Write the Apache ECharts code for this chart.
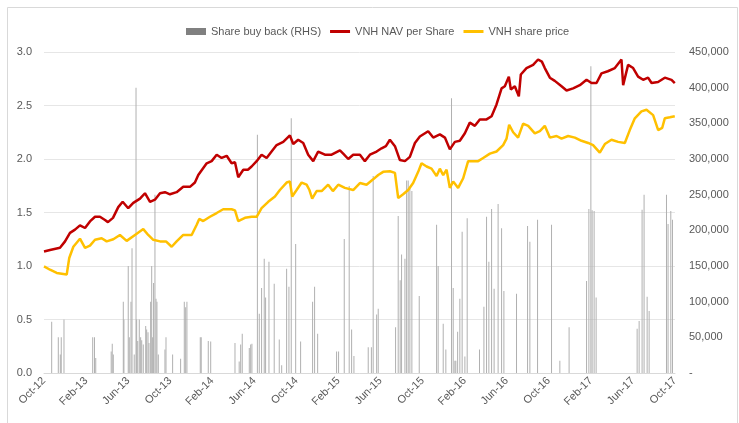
<!DOCTYPE html>
<html>
<head>
<meta charset="utf-8">
<script src="https://cdn.jsdelivr.net/npm/echarts@6/dist/echarts.min.js"></script>
<style>
html,body{margin:0;padding:0;background:#fff;}
#chart{width:739px;height:423px;}
</style>
</head>
<body>
<div id="chart"></div>
<script>
// x values are months elapsed since Oct-2012
const tickLabels = ['Oct-12','Feb-13','Jun-13','Oct-13','Feb-14','Jun-14','Oct-14','Feb-15','Jun-15','Oct-15','Feb-16','Jun-16','Oct-16','Feb-17','Jun-17','Oct-17'];

const seriesNames = ['Share buy back (RHS)', 'VNH NAV per Share', 'VNH share price'];

const navPerShare = [
[0,1.136],[0.57,1.15],[1.52,1.17],[2.0,1.23],[2.47,1.31],[2.95,1.34],[3.42,1.38],[3.9,1.355],[4.37,1.417],[4.85,1.46],
[5.32,1.46],[5.8,1.43],[6.08,1.41],[6.56,1.45],[7.06,1.55],[7.48,1.6],[8.01,1.54],[8.49,1.59],[9.13,1.63],[9.6,1.68],
[10.08,1.6],[10.55,1.62],[11.03,1.68],[11.5,1.69],[11.98,1.67],[12.61,1.69],[13.24,1.74],[13.88,1.74],[14.35,1.78],[14.67,1.85],
[15.47,1.96],[15.94,1.98],[16.42,2.04],[16.89,2.01],[17.37,2.03],[17.84,1.96],[18.16,1.97],[18.47,1.83],[18.95,1.9],[19.39,1.9],
[19.74,1.93],[20.22,1.98],[20.69,2.04],[21.17,2.01],[21.64,2.07],[22.12,2.13],[22.75,2.16],[23.38,2.22],[23.7,2.14],[24.17,2.18],
[24.65,2.15],[25.12,2.04],[25.6,1.98],[26.07,2.07],[26.71,2.04],[27.35,2.04],[28.14,2.08],[28.45,2.05],[28.93,2.0],[29.4,2.04],
[30.04,2.04],[30.51,1.98],[30.99,2.04],[31.63,2.07],[32.1,2.1],[32.51,2.12],[32.89,2.18],[33.37,2.12],[33.84,1.99],[34.32,1.98],
[34.79,2.02],[35.27,2.15],[35.74,2.21],[36.53,2.26],[37.01,2.2],[37.64,2.23],[38.12,2.2],[38.59,2.09],[39.07,2.16],[39.54,2.17],
[40.02,2.24],[40.49,2.34],[40.97,2.31],[41.44,2.37],[42.08,2.37],[42.56,2.4],[43.03,2.51],[43.51,2.66],[43.82,2.68],[44.2,2.77],
[44.39,2.65],[44.77,2.68],[45.15,2.585],[45.34,2.79],[45.88,2.85],[46.51,2.88],[46.98,2.93],[47.34,2.91],[47.62,2.85],[48.1,2.76],
[48.57,2.73],[49.21,2.68],[49.69,2.64],[50.31,2.66],[50.95,2.69],[51.59,2.74],[52.06,2.71],[52.54,2.71],[53.01,2.8],[53.61,2.82],
[54.28,2.85],[54.91,2.93],[55.07,2.69],[55.54,2.88],[56.02,2.85],[56.49,2.77],[56.97,2.74],[57.44,2.76],[57.77,2.71],[58.39,2.72],
[59.03,2.76],[59.67,2.74],[59.98,2.71]
];

const sharePrice = [
[0,0.996],[0.57,0.965],[1.21,0.935],[2.16,0.92],[2.4,1.075],[2.79,1.18],[3.42,1.255],[3.9,1.17],[4.37,1.19],[4.85,1.245],
[5.48,1.26],[5.96,1.23],[6.59,1.25],[7.22,1.29],[7.86,1.235],[8.65,1.29],[9.44,1.345],[9.91,1.29],[10.39,1.245],[11.03,1.23],
[11.6,1.23],[12.14,1.18],[12.61,1.23],[13.24,1.29],[14.04,1.29],[14.52,1.386],[14.76,1.44],[15.14,1.42],[15.78,1.46],[16.42,1.495],
[17.04,1.53],[17.84,1.53],[18.16,1.52],[18.47,1.42],[19.11,1.45],[19.74,1.46],[20.22,1.46],[20.69,1.54],[21.32,1.6],[21.96,1.65],
[22.43,1.71],[23.07,1.78],[23.38,1.79],[23.6,1.65],[24.02,1.71],[24.5,1.78],[24.97,1.76],[25.24,1.71],[25.5,1.63],[25.92,1.7],
[26.4,1.7],[27.02,1.76],[27.47,1.7],[27.98,1.76],[28.61,1.73],[29.4,1.71],[30.04,1.775],[30.67,1.76],[31.3,1.81],[31.78,1.85],
[32.25,1.88],[32.89,1.885],[33.37,1.87],[33.68,1.635],[34.15,1.67],[34.63,1.71],[35.1,1.775],[35.58,1.88],[35.9,1.96],[36.38,1.93],
[36.85,1.91],[37.33,1.84],[37.64,1.91],[37.96,1.85],[38.28,1.9],[38.59,1.73],[38.91,1.79],[39.38,1.73],[39.86,1.82],[40.33,1.98],
[40.81,1.98],[41.28,1.98],[41.76,2.01],[42.4,2.05],[43.03,2.07],[43.66,2.13],[43.98,2.19],[44.23,2.32],[44.61,2.25],[45.08,2.2],
[45.56,2.33],[46.04,2.31],[46.67,2.24],[47.15,2.26],[47.62,2.31],[48.1,2.2],[48.74,2.215],[49.21,2.19],[49.84,2.215],[50.48,2.2],
[51.11,2.17],[51.74,2.15],[52.21,2.13],[52.85,2.06],[53.33,2.14],[53.96,2.18],[54.59,2.16],[55.23,2.15],[55.7,2.27],[56.18,2.38],
[56.81,2.445],[57.29,2.46],[57.92,2.41],[58.4,2.27],[58.78,2.29],[59.03,2.38],[59.51,2.39],[59.98,2.4]
];

const shareBuyBack = [
[0.73,72000],[1.36,50000],[1.55,26000],[1.64,50000],[1.9,75000],[4.63,50000],[4.8,50000],[4.92,21000],[6.39,30000],[6.49,41000],
[6.59,26000],[7.54,100000],[7.6,75000],[8.01,150000],[8.11,50000],[8.27,100000],[8.37,175000],[8.58,26000],[8.75,400000],[8.81,75000],
[8.91,45000],[9.06,75000],[9.19,50000],[9.29,46000],[9.44,40000],[9.67,66000],[9.76,61000],[9.89,57000],[9.98,42000],[10.14,100000],
[10.24,150000],[10.33,50000],[10.42,126000],[10.55,250000],[10.65,104000],[10.74,100000],[10.87,26000],[11.5,33000],[11.6,50000],[12.23,26000],
[12.99,20000],[13.34,100000],[13.47,92000],[13.59,100000],[14.86,50000],[14.95,50000],[15.62,45000],[15.85,44000],[18.16,42000],[18.56,16000],
[18.7,40000],[18.85,55000],[19.52,35000],[19.65,40000],[19.77,41000],[20.29,334000],[20.47,83000],[20.69,119000],[20.94,160000],[21.07,106000],
[21.39,156000],[21.89,125000],[22.37,47000],[22.6,11000],[23.07,146000],[23.29,121000],[23.51,357000],[23.93,181000],[24.4,44000],[25.54,100000],
[25.73,121000],[26.02,55000],[27.82,30000],[28.01,30000],[28.55,188000],[29.02,262000],[29.25,61000],[29.47,24000],[30.83,36000],[31.13,36000],
[31.3,276000],[31.63,82000],[31.78,90000],[33.43,64000],[33.68,220000],[33.87,130000],[34.0,166000],[34.32,160000],[34.48,270000],[34.63,270000],
[34.79,259000],[34.98,255000],[35.68,108000],[37.33,208000],[37.48,150000],[37.96,69000],[38.21,33000],[38.75,385000],[38.91,119000],[39.07,17000],
[39.16,17000],[39.33,58000],[39.54,104000],[39.76,198000],[40.02,23000],[40.24,217000],[41.41,33000],[41.83,93000],[42.08,219000],[42.3,156000],
[42.56,230000],[42.8,118000],[43.18,237000],[43.51,203000],[43.73,115000],[44.93,111000],[45.98,206000],[46.2,184000],[46.93,215000],[48.26,208000],
[49.05,17000],[49.93,64000],[51.59,129000],[51.81,230000],[52.0,430000],[52.12,228000],[52.31,227000],[52.5,106000],[56.4,62000],[56.59,73000],
[56.87,229000],[57.06,250000],[57.35,107000],[57.54,87000],[59.19,250000],[59.34,209000],[59.6,227000],[59.76,215000]
];

const FONT = 'Liberation Sans, Arial, sans-serif';
const TXT = '#595959';

const chart = echarts.init(document.getElementById('chart'), null, {renderer: 'canvas'});
chart.setOption({
  animation: false,
  backgroundColor: '#ffffff',
  textStyle: {fontFamily: FONT},
  graphic: [{
    type: 'rect', silent: true, z: -10,
    shape: {x: 7.5, y: 7.5, width: 730, height: 430},
    style: {fill: 'none', stroke: '#d9d9d9', lineWidth: 1}
  }],
  legend: {
    left: 181, top: 21,
    itemGap: 9,
    itemHeight: 7,
    itemWidth: 20,
    textStyle: {fontFamily: FONT, fontSize: 11, color: TXT},
    data: [
      {name: seriesNames[0], icon: 'rect', itemStyle: {color: '#808080'}},
      {name: seriesNames[1], icon: 'path://M0,0 L20,0 L20,3 L0,3 Z', itemStyle: {color: '#c00000'}},
      {name: seriesNames[2], icon: 'path://M0,0 L20,0 L20,3 L0,3 Z', itemStyle: {color: '#ffc000'}}
    ]
  },
  grid: {left: 44, right: 64, top: 52, bottom: 50},
  xAxis: {
    type: 'value', min: 0, max: 60, interval: 4,
    axisLine: {show: true, lineStyle: {color: '#d9d9d9'}},
    axisTick: {show: false},
    splitLine: {show: false},
    axisLabel: {
      rotate: 45, fontSize: 11, color: TXT, fontFamily: FONT, margin: 6,
      formatter: v => tickLabels[Math.round(v / 4)] || ''
    }
  },
  yAxis: [{
    type: 'value', min: 0, max: 3, interval: 0.5, position: 'left',
    axisLine: {show: false}, axisTick: {show: false},
    splitLine: {lineStyle: {color: '#e6e6e6'}},
    axisLabel: {fontSize: 11, color: TXT, fontFamily: FONT, margin: 12, formatter: v => v.toFixed(1)}
  }, {
    type: 'value', min: 0, max: 450000, interval: 50000, position: 'right',
    axisLine: {show: false}, axisTick: {show: false},
    splitLine: {show: false},
    axisLabel: {
      fontSize: 11, color: TXT, fontFamily: FONT, margin: 14,
      formatter: v => v === 0 ? '-' : v.toLocaleString('en-US')
    }
  }],
  series: [{
    name: seriesNames[0], type: 'bar', yAxisIndex: 1,
    data: shareBuyBack, barWidth: 1, barGap: '0%',
    itemStyle: {color: '#b0b0b0'},
    z: 1
  }, {
    name: seriesNames[1], type: 'line', yAxisIndex: 0,
    data: navPerShare, showSymbol: false, symbol: 'none',
    lineStyle: {color: '#c00000', width: 2.5},
    itemStyle: {color: '#c00000'}, z: 3
  }, {
    name: seriesNames[2], type: 'line', yAxisIndex: 0,
    data: sharePrice, showSymbol: false, symbol: 'none',
    lineStyle: {color: '#ffc000', width: 2.5},
    itemStyle: {color: '#ffc000'}, z: 2
  }]
});
</script>
</body>
</html>
